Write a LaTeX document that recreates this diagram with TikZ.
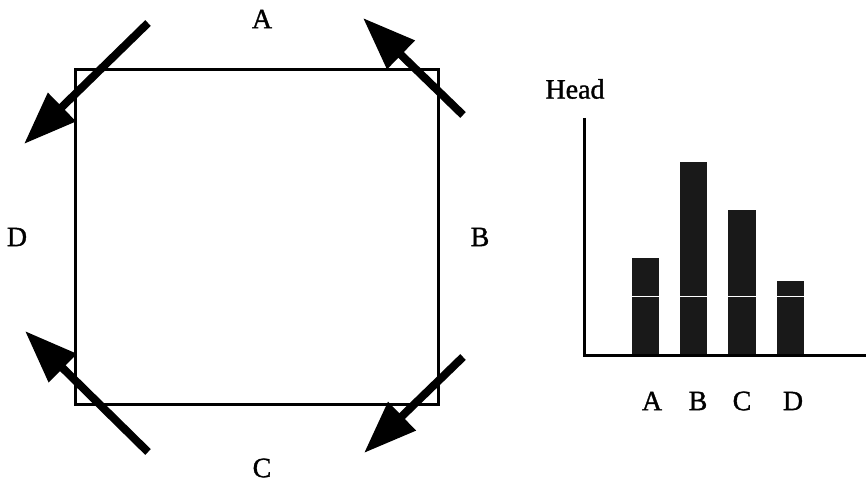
\documentclass[tikz,border=0pt]{standalone}
\usepackage{fontspec}
\setmainfont{Liberation Serif}
\newfontfamily\scanfont[FakeBold=1.2]{Liberation Serif}
\usetikzlibrary{arrows.meta}
\begin{document}
\begin{tikzpicture}[x=1pt,y=-1pt,
  lbl/.style={font=\scanfont\fontsize{28}{30}\selectfont, inner sep=0pt},
  bigarrow/.style={line width=8pt, -{Triangle[length=53pt,width=38pt]}},
  frame/.style={line width=3pt},
  axis/.style={line width=3pt},
  bar/.style={fill=black!90, draw=none},
  gap/.style={draw=white, line width=1pt}]
\useasboundingbox (0,0) rectangle (866,489);
% square
\draw[frame] (75,70) rectangle (438,404.5);
% arrows
\coordinate (t1) at (148,23);  \coordinate (h1) at (24,144);
\coordinate (t2) at (463,115); \coordinate (h2) at (363,18);
\coordinate (t3) at (148,452); \coordinate (h3) at (25,331);
\coordinate (t4) at (463,357); \coordinate (h4) at (364,453);
\draw[bigarrow] (t1) -- (h1);
\draw[bigarrow] (t2) -- (h2);
\draw[bigarrow] (t3) -- (h3);
\draw[bigarrow] (t4) -- (h4);
% side labels
\node[lbl] (la) at (262,19) {A};
\node[lbl] (lb) at (480,237) {B};
\node[lbl] (lc) at (262,468) {C};
\node[lbl] (ld) at (17,237) {D};
% chart
\node[lbl] (head) at (575,89) {Head};
\fill[bar] (632,258) rectangle (659,355);
\fill[bar] (680,162) rectangle (707,355);
\fill[bar] (728,210) rectangle (756,355);
\fill[bar] (777,281) rectangle (804,355);
\draw[gap] (632,296) -- (659,296);
\draw[gap] (680,296) -- (707,296);
\draw[gap] (728,296) -- (756,296);
\draw[gap] (777,296) -- (804,296);
\draw[axis] (584,118) -- (584,355) -- (866,355);
\node[lbl] (ca) at (652,401) {A};
\node[lbl] (cb) at (698,401) {B};
\node[lbl] (cc) at (742,401) {C};
\node[lbl] (cd) at (793,401) {D};
\end{tikzpicture}
\end{document}
